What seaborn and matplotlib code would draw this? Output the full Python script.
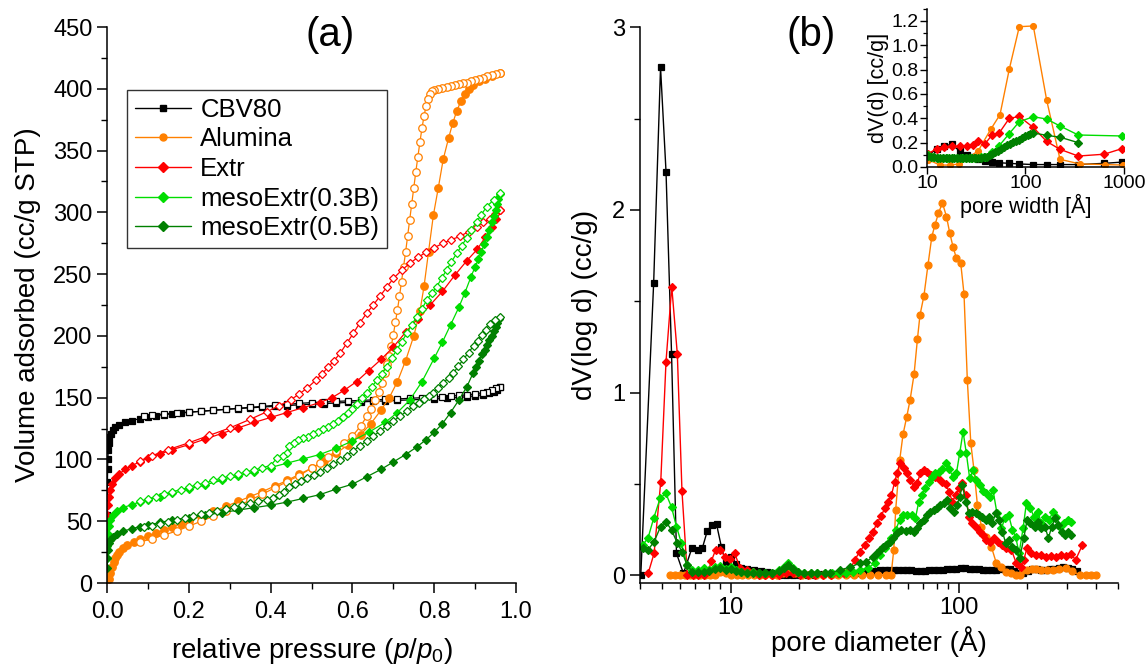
import numpy as np
import pandas as pd
import seaborn as sns
import matplotlib
matplotlib.use("Agg")
import matplotlib.pyplot as plt
from matplotlib.lines import Line2D
from matplotlib import ticker

# ---------------- (a) nitrogen isotherms: adsorption / desorption ----------------
cbv_ads_p = [0.0003, 0.0006, 0.001, 0.0015, 0.002, 0.003, 0.004, 0.006, 0.009, 0.014, 0.02, 0.03, 0.045, 0.06, 0.08,
             0.1, 0.12, 0.14, 0.16, 0.18, 0.2, 0.23, 0.26, 0.29, 0.32, 0.35, 0.38, 0.41, 0.44, 0.47, 0.5, 0.53, 0.56,
             0.59, 0.62, 0.65, 0.68, 0.71, 0.74, 0.77, 0.8, 0.83, 0.86, 0.88, 0.9, 0.92, 0.935, 0.945, 0.953, 0.96]
cbv_ads_v = [55, 70, 82, 92, 100, 108, 113, 118, 121, 123.5, 126, 128, 130, 131.5, 133, 134.5, 135.5, 136.3, 137, 137.6,
             138.2, 139, 139.8, 140.5, 141.2, 141.8, 142.4, 143, 143.6, 144.2, 144.7, 145.2, 145.7, 146.2, 146.6, 147,
             147.4, 147.8, 148.2, 148.6, 149, 149.5, 150.2, 150.8, 151.5, 152.5, 153.5, 155, 156.5, 159]
cbv_des_p = [0.96, 0.95, 0.94, 0.93, 0.92, 0.9, 0.88, 0.86, 0.84, 0.82, 0.8, 0.77, 0.74, 0.71, 0.68, 0.65, 0.62, 0.59,
             0.56, 0.53, 0.5, 0.47, 0.44, 0.41, 0.38, 0.35, 0.32, 0.29, 0.26, 0.23, 0.2, 0.17, 0.14, 0.11, 0.09]
cbv_des_v = [159, 157.5, 156, 155, 154.2, 153, 152.3, 151.8, 151.3, 150.9, 150.5, 150, 149.5, 149, 148.6, 148.2, 147.8,
             147.4, 147, 146.5, 146, 145.4, 144.6, 143.8, 143, 142.2, 141.4, 140.6, 139.8, 139, 138.3, 137.6, 136.8,
             136, 135.3]

alu_ads_p = [0.004, 0.008, 0.012, 0.016, 0.02, 0.025, 0.03, 0.04, 0.05, 0.065, 0.08, 0.1, 0.12, 0.14, 0.16, 0.18, 0.2,
             0.23, 0.26, 0.29, 0.32, 0.35, 0.38, 0.41, 0.44, 0.47, 0.5, 0.53, 0.56, 0.59, 0.62, 0.645, 0.67, 0.69, 0.71,
             0.73, 0.75, 0.765, 0.775, 0.786, 0.798, 0.81, 0.822, 0.835, 0.845, 0.855, 0.865, 0.875, 0.885, 0.895, 0.91,
             0.925, 0.94, 0.96]
alu_ads_v = [3, 8, 13, 17, 20, 23, 25.5, 28.5, 31, 33.5, 35.5, 38, 40.5, 43, 45.5, 48, 50.5, 54, 58, 62, 66, 70, 74,
             78.5, 83, 88, 93, 98.5, 105, 112, 120, 129, 140, 150, 163, 180, 200, 220, 240, 268, 298, 320, 343, 360,
             372, 382, 390, 396, 400, 403, 406, 408, 410, 413]
alu_des_p = [0.96, 0.95, 0.94, 0.93, 0.92, 0.91, 0.9, 0.89, 0.88, 0.87, 0.86, 0.85, 0.84, 0.83, 0.82, 0.81, 0.80,
             0.795, 0.79, 0.785, 0.78, 0.775, 0.77, 0.765, 0.76, 0.755, 0.75, 0.745, 0.74, 0.735, 0.73, 0.725, 0.72,
             0.715, 0.71, 0.705, 0.70, 0.695, 0.69, 0.685, 0.68, 0.672, 0.664, 0.655, 0.645, 0.635, 0.62, 0.6, 0.58,
             0.56, 0.54, 0.52, 0.5, 0.47, 0.44, 0.41, 0.38, 0.35, 0.32, 0.29, 0.26, 0.23, 0.2, 0.17, 0.14, 0.11, 0.08]
alu_des_v = [413, 412, 411, 410, 409, 408, 407, 406, 405, 404.5, 404, 403, 402, 401.5, 401, 400, 399, 398, 396, 392,
             386, 378, 368, 357, 345, 333, 320, 307, 294, 281, 268, 256, 244, 232, 221, 211, 201, 192, 184, 177, 170,
             162, 155, 148, 141, 135, 127, 119, 113, 107, 102, 97, 93, 87, 82, 77, 72, 67, 62.5, 58, 54, 50, 46, 42,
             39, 36, 33]

ext_ads_p = [0.0003, 0.0006, 0.001, 0.002, 0.004, 0.007, 0.012, 0.02, 0.03, 0.045, 0.06, 0.08, 0.1, 0.13, 0.16, 0.2,
             0.24, 0.28, 0.32, 0.36, 0.4, 0.44, 0.48, 0.52, 0.55, 0.58, 0.61, 0.64, 0.67, 0.70, 0.73, 0.76, 0.79,
             0.82, 0.85, 0.88, 0.905, 0.925, 0.94, 0.952, 0.96]
ext_ads_v = [35, 45, 55, 63, 70, 75, 80, 85, 88.5, 92, 95, 98, 101, 104.5, 108, 112, 116.5, 121, 125.5, 130, 134, 138,
             142, 146, 150, 156, 163, 172, 181, 191, 203, 214, 225, 236, 249, 261, 270, 280, 288, 295, 302]
ext_des_p = [0.961, 0.948, 0.936, 0.92, 0.904, 0.884, 0.863, 0.842, 0.822, 0.80, 0.781, 0.76, 0.741, 0.72, 0.70,
             0.684, 0.667, 0.651, 0.635, 0.618, 0.602, 0.586, 0.57, 0.555, 0.54, 0.525, 0.51, 0.49, 0.47, 0.45, 0.42,
             0.39, 0.35, 0.3, 0.25, 0.2, 0.15, 0.11, 0.08]
ext_des_v = [302, 299, 295, 292, 288.5, 284.5, 280.5, 278, 275, 271.5, 268, 263.5, 259, 253, 246.5, 239.5, 232, 225,
             218.5, 210.5, 202, 194, 186, 180, 174.5, 169, 164, 158, 153, 148.5, 143.5, 138.5, 132.5, 125.5, 119.5,
             113.5, 108, 103, 99]

m03_ads_p = [0.0005, 0.001, 0.002, 0.004, 0.008, 0.015, 0.025, 0.04, 0.06, 0.08, 0.1, 0.13, 0.16, 0.2, 0.24, 0.28,
             0.32, 0.36, 0.4, 0.44, 0.48, 0.52, 0.56, 0.6, 0.64, 0.68, 0.71, 0.74, 0.77, 0.8, 0.82, 0.84, 0.86, 0.875,
             0.89, 0.9, 0.908, 0.915, 0.922, 0.928, 0.934, 0.94, 0.945, 0.95, 0.954, 0.957, 0.96]
m03_ads_v = [20, 30, 40, 46, 51, 55, 58, 61, 63.5, 65.5, 67.5, 70, 72.5, 76, 79.5, 83, 86.5, 90, 93.5, 97, 100.5, 104,
             109, 115, 122, 130, 138, 148, 163, 182, 195, 209, 223, 235, 248, 256, 262, 268, 274, 280, 286, 292, 297,
             302, 307, 311, 315]
m03_des_p = [0.96, 0.945, 0.928, 0.915, 0.904, 0.89, 0.879, 0.867, 0.855, 0.842, 0.83, 0.818, 0.806, 0.794, 0.782,
             0.77, 0.757, 0.745, 0.733, 0.72, 0.708, 0.696, 0.684, 0.672, 0.66, 0.648, 0.636, 0.624, 0.612, 0.6, 0.588,
             0.576, 0.564, 0.552, 0.54, 0.528, 0.516, 0.504, 0.492, 0.48, 0.468, 0.456, 0.445, 0.44, 0.43, 0.415,
             0.4, 0.38, 0.36, 0.34, 0.32, 0.3, 0.28, 0.26, 0.24, 0.22, 0.2, 0.18, 0.16, 0.14, 0.12, 0.1, 0.08]
m03_des_v = [316, 310, 304.6, 298, 292.5, 286, 279, 273, 266.8, 260, 253.4, 246.5, 239.9, 234.5, 229.1, 222, 215.6,
             209, 202.1, 195, 188.6, 182, 175.1, 169.5, 164.3, 159, 154, 149.5, 145, 141, 137.5, 134, 131.5, 129,
             126.5, 124.5, 122.5, 120.5, 118.5, 117, 115.5, 113.5, 111, 105, 103, 101, 95, 93.5, 91.5, 90, 88, 86.5,
             85, 83, 81, 79.5, 77.5, 75.5, 74, 72, 70, 68, 66]

m05_ads_p = [0.0005, 0.001, 0.002, 0.004, 0.008, 0.015, 0.025, 0.04, 0.06, 0.08, 0.1, 0.13, 0.16, 0.2, 0.24, 0.28,
             0.32, 0.36, 0.4, 0.44, 0.48, 0.52, 0.56, 0.6, 0.635, 0.67, 0.70, 0.73, 0.757, 0.78, 0.80, 0.82, 0.84,
             0.86, 0.88, 0.895, 0.903, 0.91, 0.917, 0.923, 0.929, 0.935, 0.94, 0.945, 0.95, 0.954, 0.958]
m05_ads_v = [12, 20, 27, 32, 35, 37.5, 39.5, 42, 44, 45.5, 47, 49, 51, 53, 55, 57, 59, 61, 63, 65.5, 68.5, 71.5, 76, 80,
             86, 92, 98, 104, 110, 116, 122, 129, 138, 148, 159, 170, 175, 180, 185, 189, 193, 197, 200, 204, 207,
             210.5, 214]
m05_des_p = [0.96, 0.948, 0.937, 0.926, 0.916, 0.906, 0.896, 0.884, 0.871, 0.859, 0.847, 0.835, 0.822, 0.81, 0.798,
             0.786, 0.774, 0.762, 0.749, 0.733, 0.716, 0.7, 0.684, 0.668, 0.651, 0.635, 0.618, 0.602, 0.586, 0.57,
             0.553, 0.537, 0.52, 0.505, 0.49, 0.475, 0.46, 0.445, 0.432, 0.42, 0.406, 0.39, 0.37, 0.35, 0.33, 0.31,
             0.29, 0.27, 0.25, 0.23, 0.21, 0.19, 0.17, 0.15, 0.13, 0.11, 0.09]
m05_des_v = [215, 212.5, 210, 205, 201, 196, 192, 186.5, 181, 175.5, 170, 166, 162, 158, 154, 151, 148.7, 146, 143.3,
             139, 135, 131, 127, 123, 119, 115, 111, 107, 103, 99.5, 96, 93, 90, 87.5, 85, 82.5, 80, 77.5, 74, 71.5,
             69, 67.5, 66, 64.5, 63, 61.5, 60, 58.5, 57, 55.5, 54, 52.5, 51, 49.5, 48, 46.5, 45]

# ---------------- (b) pore size distributions dV(log d) ----------------
cbv_d = [4.03, 4.59, 4.92, 5.20, 5.50, 5.78, 6.2, 6.76, 7.15, 7.51, 7.90, 8.28, 8.66, 9.10, 9.5, 10.0, 10.5, 11.1,
         11.8, 12.7, 13.6, 14.4, 15.3, 16.3, 17.5, 18.8, 20.2, 21.8, 23.5, 25.4, 27.4, 29.0, 30.0, 31.5, 33.0, 34.5,
         36.0, 37.7, 39.5, 41.3, 43.2, 45.2, 47.3, 49.5, 51.8, 54.2, 56.7, 59.3, 62.0, 65.0, 68.0, 71.0, 74.3, 77.8,
         81.4, 85.2, 89.1, 93.2, 97.5, 102, 106.7, 111.6, 116.8, 122.2, 127.8, 133.7, 139.9, 146.4, 153.2, 160.3,
         167.7, 175.5, 183.6, 192, 201, 210, 220, 230, 240.5, 251.6, 263, 275, 288, 301, 315, 330]
cbv_dv = [0.0, 1.60, 2.78, 2.21, 1.21, 0.12, 0.01, 0.15, 0.14, 0.15, 0.245, 0.275, 0.28, 0.155, 0.07, 0.10, 0.06,
          0.04, 0.035, 0.03, 0.025, 0.02, 0.01, 0.0, 0.0, 0.0, 0.0, 0.0, 0.0, 0.005, 0.005, 0.008, 0.01, 0.01, 0.012,
          0.015, 0.015, 0.018, 0.02, 0.022, 0.025, 0.028, 0.03, 0.03, 0.03, 0.03, 0.03, 0.028, 0.027, 0.025, 0.025,
          0.025, 0.027, 0.03, 0.03, 0.03, 0.032, 0.033, 0.035, 0.04, 0.038, 0.035, 0.035, 0.033, 0.03, 0.03, 0.03,
          0.03, 0.032, 0.035, 0.032, 0.025, 0.015, 0.01, 0.025, 0.033, 0.035, 0.03, 0.03, 0.032, 0.035, 0.04, 0.045,
          0.04, 0.032, 0.025]

alu_d = [5.4, 5.7, 6.0, 6.3, 6.6, 6.9, 7.3, 7.7, 8.1, 8.5, 9.0, 9.5, 10.0, 10.6, 11.2, 11.9, 12.6, 13.4, 14.2, 15.1,
         16.0, 17.0, 18.0, 19.2, 20.5, 22.0, 23.6, 25.4, 27.4, 29.6, 32, 34.6, 37.5, 40.7, 44.2, 48, 50.5, 51.9,
         52.9, 55.1, 57.0, 59.1, 61.2, 63.7, 65.9, 67.6, 70.4, 73.3, 76.2, 78.7, 81.5, 84.8, 88.4, 91.4, 94.4, 97.7,
         102, 105.5, 109.1, 113, 116.7, 120.8, 125.8, 132.2, 139, 146.3, 153.8, 161.8, 170, 179, 185, 191, 200, 210,
         219, 230, 245, 259, 275, 297, 315, 340, 360, 380, 402]
alu_dv = [0, 0, 0, 0, 0, 0, 0, 0, 0, 0, 0.02, 0.01, 0, 0, 0, 0, 0, 0, 0, 0, 0, 0.015, 0.025, 0.01, 0, 0, 0, 0, 0, 0,
          0, 0, 0, 0, 0, 0, 0, 0.14, 0.357, 0.631, 0.772, 0.865, 0.960, 1.100, 1.292, 1.423, 1.531, 1.698, 1.853,
          1.919, 1.981, 2.039, 1.963, 1.872, 1.799, 1.735, 1.711, 1.540, 1.069, 0.722, 0.576, 0.385, 0.266, 0.211,
          0.157, 0.066, 0.047, 0.020, 0.01, 0.0, 0.0, 0.03, 0.03, 0.035, 0.033, 0.03, 0.03, 0.03, 0.035, 0.04, 0.025,
          0.0, 0.0, 0.0, 0.0]

ext_d = [4.34, 4.61, 4.93, 5.20, 5.51, 5.83, 6.11, 6.45, 6.8, 7.2, 7.6, 8.0, 8.23, 8.59, 9.0, 9.48, 9.9, 10.4, 11.0,
         11.8, 12.5, 13.3, 14.2, 15.2, 16.3, 17.5, 18.8, 20.2, 21.8, 23.5, 25.4, 27.4, 29.5, 31.5, 33.3, 35.0, 36.8,
         38.7, 40.5, 42.1, 43.8, 45.5, 47.4, 49.0, 50.7, 52.4, 53.6, 55.1, 57.4, 59.3, 61.4, 63.5, 65.7, 67.9, 70.2,
         72.6, 75.4, 78.5, 81.4, 84.8, 87.7, 90.7, 93.8, 97, 100.3, 103.8, 107.3, 111, 114.8, 119.6, 123.7, 127.9,
         132.2, 137.7, 142.4, 148.7, 155.5, 161.9, 170.3, 179, 187, 192.8, 199.4, 208.4, 219.2, 230.5, 242.4, 255,
         268.2, 282, 296.5, 312, 325.5, 349]
ext_dv = [0.01, 0.12, 0.51, 1.17, 1.58, 1.21, 0.46, 0.0, 0.0, 0.0, 0.0, 0.03, 0.08, 0.14, 0.14, 0.10, 0.09, 0.12,
          0.04, 0.03, 0.02, 0.0, 0.0, 0.0, 0.0, 0.01, 0.01, 0.0, 0.0, 0.0, 0.0, 0.0, 0.01, 0.015, 0.029, 0.084,
          0.130, 0.166, 0.203, 0.239, 0.285, 0.322, 0.366, 0.403, 0.439, 0.512, 0.558, 0.612, 0.585, 0.558, 0.522,
          0.485, 0.503, 0.558, 0.576, 0.567, 0.549, 0.540, 0.531, 0.512, 0.500, 0.458, 0.403, 0.439, 0.476, 0.503,
          0.439, 0.320, 0.284, 0.266, 0.239, 0.221, 0.193, 0.184, 0.203, 0.184, 0.166, 0.148, 0.139, 0.066, 0.048,
          0.084, 0.148, 0.124, 0.111, 0.111, 0.102, 0.106, 0.102, 0.111, 0.106, 0.115, 0.084, 0.166]

m03_d = [4.12, 4.34, 4.59, 4.90, 5.19, 5.50, 5.78, 6.08, 6.43, 6.79, 7.2, 7.6, 8.0, 8.5, 9.0, 9.5, 10.0, 10.5, 11.1,
         11.8, 12.5, 13.3, 14.2, 15.2, 16.3, 17.2, 17.8, 18.7, 19.7, 21, 22.5, 24, 25.8, 27.7, 29.7, 32, 34.5, 37,
         40, 42.8, 45.1, 47.4, 49.0, 50.7, 52.9, 55.1, 57.0, 59.3, 62.1, 64.6, 66.8, 69.1, 71.4, 73.9, 76.4, 79.0,
         81.7, 84.5, 87.7, 90.7, 94.4, 97.7, 101, 104.5, 108, 111.7, 115.6, 119.6, 123.7, 127.9, 132.2, 136.8,
         141.4, 147.2, 153.8, 159.6, 165.6, 172.1, 177.8, 184, 191.6, 198.2, 206.3, 213.8, 222.6, 230.5, 239.3,
         249.2, 259.2, 268.4, 279.3, 289.9, 301.7, 312]
m03_dv = [0.166, 0.206, 0.312, 0.421, 0.449, 0.372, 0.266, 0.175, 0.056, 0.027, 0.03, 0.04, 0.03, 0.045, 0.05, 0.035,
          0.045, 0.03, 0.02, 0.015, 0.02, 0.01, 0.01, 0.015, 0.03, 0.045, 0.066, 0.04, 0.02, 0.01, 0.01, 0.01, 0.01,
          0.01, 0.01, 0.015, 0.02, 0.03, 0.04, 0.066, 0.111, 0.148, 0.175, 0.203, 0.248, 0.303, 0.330, 0.330,
          0.330, 0.312, 0.403, 0.440, 0.476, 0.512, 0.540, 0.558, 0.567, 0.580, 0.613, 0.580, 0.540, 0.558, 0.668,
          0.786, 0.668, 0.531, 0.576, 0.522, 0.494, 0.463, 0.449, 0.430, 0.467, 0.339, 0.257, 0.312, 0.330, 0.248,
          0.211, 0.12, 0.257, 0.397, 0.367, 0.321, 0.348, 0.285, 0.321, 0.303, 0.348, 0.321, 0.266, 0.285, 0.303,
          0.294]

m05_d = [4.12, 4.34, 4.61, 4.92, 5.19, 5.50, 5.82, 6.11, 6.43, 6.79, 7.2, 7.6, 8.0, 8.5, 9.0, 9.5, 10.0, 10.5, 11.1,
         11.8, 12.5, 13.3, 14.2, 15.2, 16.3, 17.2, 17.8, 18.7, 19.7, 21, 22.5, 24, 25.8, 27.2, 30.1, 33.3, 36.8,
         39.4, 42.1, 43.6, 45.1, 46.6, 48.2, 49.8, 51.5, 53.7, 56.1, 58.6, 61.0, 63.5, 65.6, 67.9, 70.2, 72.6, 75.1,
         77.7, 80.3, 83.1, 85.9, 88.9, 91.9, 95.1, 98.3, 101, 103.8, 107.3, 111, 114.8, 118.8, 122.8, 127, 131.3,
         135.8, 140.5, 145.3, 150.3, 155.5, 160.8, 166.3, 171.9, 179, 185.2, 192.9, 199.5, 206.3, 215.4, 222.8,
         230.5, 239.1, 247.4, 255.9, 264.7, 273.8, 283.2, 293.8, 302.7, 311.9]
m05_dv = [0.15, 0.14, 0.184, 0.266, 0.293, 0.248, 0.178, 0.129, 0.056, 0.02, 0.02, 0.02, 0.025, 0.035, 0.04, 0.03,
          0.035, 0.025, 0.02, 0.015, 0.015, 0.01, 0.01, 0.015, 0.025, 0.04, 0.055, 0.035, 0.02, 0.01, 0.01, 0.01,
          0.01, 0.011, 0.029, 0.044, 0.066, 0.075, 0.102, 0.124, 0.139, 0.157, 0.166, 0.184, 0.203, 0.230, 0.248,
          0.245, 0.248, 0.239, 0.257, 0.285, 0.303, 0.330, 0.348, 0.357, 0.367, 0.385, 0.394, 0.412, 0.367, 0.348,
          0.385, 0.430, 0.494, 0.403, 0.339, 0.348, 0.339, 0.330, 0.321, 0.303, 0.321, 0.285, 0.339, 0.303, 0.239,
          0.175, 0.193, 0.157, 0.139, 0.093, 0.203, 0.303, 0.285, 0.266, 0.294, 0.257, 0.266, 0.203, 0.266, 0.312,
          0.275, 0.239, 0.221, 0.239, 0.221]

# ---------------- inset: dV(d) ----------------
cbv_in_d = [10.3, 12.5, 14.9, 17.8, 21.6, 25.3, 29.5, 33.2, 38.8, 45.4, 54.1, 68.5, 86.5, 120, 164, 224, 343, 629, 945]
cbv_in_v = [0.10, 0.145, 0.175, 0.185, 0.13, 0.10, 0.085, 0.065, 0.05, 0.04, 0.035, 0.03, 0.025, 0.02, 0.02, 0.02,
            0.02, 0.03, 0.04]
alu_in_d = [10.3, 13.5, 17.1, 21.3, 33.2, 44.4, 55.1, 68.5, 86.5, 120, 164, 224, 357, 641, 970]
alu_in_v = [0.06, 0.016, 0.016, 0.025, 0.134, 0.31, 0.43, 0.805, 1.153, 1.159, 0.55, 0.063, 0.025, 0.02, 0.016]
ext_in_d = [10.3, 12.5, 14.9, 17.8, 21.6, 25.3, 29.5, 33.2, 38.8, 45.4, 54.1, 68.5, 86.5, 120, 164, 224, 343, 629, 945]
ext_in_v = [0.11, 0.15, 0.165, 0.17, 0.17, 0.175, 0.18, 0.215, 0.19, 0.26, 0.28, 0.40, 0.415, 0.325, 0.21, 0.145,
            0.09, 0.105, 0.15]
m03_in_d = [10.3, 11.5, 13, 14.5, 16, 18, 20, 22.5, 25, 28, 31, 35, 39, 45.4, 54.1, 68.5, 86.5, 120, 164, 224, 343,
            945]
m03_in_v = [0.10, 0.08, 0.075, 0.075, 0.075, 0.075, 0.075, 0.075, 0.075, 0.075, 0.075, 0.08, 0.085, 0.12, 0.175,
            0.275, 0.372, 0.413, 0.394, 0.337, 0.263, 0.255]
m05_in_d = [10.3, 11, 11.8, 12.6, 13.5, 14.5, 15.5, 16.6, 17.8, 19, 20.4, 21.8, 23.4, 25, 26.8, 28.7, 30.7, 32.9,
            35.2, 37.7, 40.3, 43.2, 46.2, 49.5, 53, 56.7, 60.7, 65, 69.6, 74.5, 79.8, 85.4, 91.5, 98, 105, 112, 120,
            164, 224, 343]
m05_in_v = [0.09, 0.085, 0.08, 0.075, 0.075, 0.075, 0.075, 0.075, 0.075, 0.075, 0.075, 0.075, 0.075, 0.075, 0.075,
            0.075, 0.075, 0.075, 0.075, 0.08, 0.085, 0.095, 0.11, 0.12, 0.135, 0.15, 0.165, 0.18, 0.19, 0.205, 0.215,
            0.225, 0.24, 0.255, 0.265, 0.27, 0.28, 0.26, 0.245, 0.20]

labels = ["CBV80", "Alumina", "Extr", "mesoExtr(0.3B)", "mesoExtr(0.5B)"]
colors = ["#000000", "#FF8000", "#FF0000", "#00DD00", "#008000"]
markers = ["s", "o", "D", "D", "D"]
msize_a = [4.6, 5.4, 4.4, 4.4, 4.4]

iso = [(cbv_ads_p, cbv_ads_v, cbv_des_p, cbv_des_v),
       (alu_ads_p, alu_ads_v, alu_des_p, alu_des_v),
       (ext_ads_p, ext_ads_v, ext_des_p, ext_des_v),
       (m03_ads_p, m03_ads_v, m03_des_p, m03_des_v),
       (m05_ads_p, m05_ads_v, m05_des_p, m05_des_v)]
psd = [(cbv_d, cbv_dv), (alu_d, alu_dv), (ext_d, ext_dv), (m03_d, m03_dv), (m05_d, m05_dv)]
psd_in = [(cbv_in_d, cbv_in_v), (alu_in_d, alu_in_v), (ext_in_d, ext_in_v), (m03_in_d, m03_in_v),
          (m05_in_d, m05_in_v)]

sns.set_theme(style="ticks")
plt.rcParams.update({
    "font.family": ["Liberation Sans", "DejaVu Sans"],
    "mathtext.fontset": "custom",
    "mathtext.rm": "Liberation Sans",
    "mathtext.it": "Liberation Sans:italic",
    "text.color": "black",
    "axes.labelcolor": "black",
    "axes.edgecolor": "black",
    "xtick.color": "black",
    "ytick.color": "black",
    "axes.linewidth": 1.1,
    "xtick.direction": "out",
    "ytick.direction": "out",
})

fig = plt.figure(figsize=(11.46, 6.72), dpi=100)
ax_a = fig.add_axes([0.0934, 0.1324, 0.3569, 0.8274])
ax_b = fig.add_axes([0.5585, 0.1317, 0.4171, 0.8278])
ax_in = fig.add_axes([0.8089, 0.7515, 0.1719, 0.2354])


def draw(ax, x, y, color, marker, ms, face, lw=0.9, mew=0.9):
    df = pd.DataFrame({"x": x, "y": y})
    sns.lineplot(data=df, x="x", y="y", ax=ax, color=color, marker=marker, markersize=ms,
                 markerfacecolor=face, markeredgecolor=color, markeredgewidth=mew,
                 linewidth=lw, estimator=None, sort=False, legend=False)


# panel (a): filled = adsorption, open = desorption
for (ap, av, dp, dvv), c, m, ms in zip(iso, colors, markers, msize_a):
    draw(ax_a, ap, av, c, m, ms, c)
    draw(ax_a, dp, dvv, c, m, ms, "white")

ax_a.set_xlim(0, 1.0)
ax_a.set_ylim(0, 450)
ax_a.xaxis.set_major_locator(ticker.MultipleLocator(0.2))
ax_a.xaxis.set_minor_locator(ticker.MultipleLocator(0.1))
ax_a.yaxis.set_major_locator(ticker.MultipleLocator(50))
ax_a.yaxis.set_minor_locator(ticker.MultipleLocator(25))
ax_a.xaxis.set_major_formatter(ticker.FormatStrFormatter("%.1f"))
ax_a.set_xlabel(r"relative pressure ($\mathit{p}$/$\mathit{p}_\mathrm{0}$)", fontsize=20, labelpad=9)
ax_a.set_ylabel("Volume adsorbed (cc/g STP)", fontsize=20, labelpad=9)
ax_a.text(0.546, 0.986, "(a)", transform=ax_a.transAxes, fontsize=29, ha="center", va="center")

handles = [Line2D([], [], color=c, marker=m, markersize=5, markerfacecolor=c, markeredgecolor=c, linewidth=1)
           for c, m in zip(colors, markers)]
leg = ax_a.legend(handles, labels, loc="upper left", bbox_to_anchor=(0.049, 0.887), borderaxespad=0,
                  fontsize=18.5, frameon=True, fancybox=False, edgecolor="black", handlelength=2.2,
                  handletextpad=0.35, labelspacing=0.22, borderpad=0.3)
leg.get_frame().set_linewidth(1.0)

# panel (b)
for (d, v), c, m in zip(psd, colors, markers):
    draw(ax_b, d, v, c, m, 4.6 if m == "s" else (5.0 if m == "o" else 4.4), c, lw=1.0)

ax_b.set_xscale("log")
ax_b.set_xlim(4, 500)
ax_b.set_ylim(-0.045, 3.0)
ax_b.yaxis.set_major_locator(ticker.MultipleLocator(1))
ax_b.yaxis.set_minor_locator(ticker.MultipleLocator(0.5))
ax_b.xaxis.set_major_locator(ticker.FixedLocator([10, 100]))
ax_b.xaxis.set_major_formatter(ticker.FixedFormatter(["10", "100"]))
ax_b.xaxis.set_minor_locator(ticker.LogLocator(base=10, subs=np.arange(2, 10)))
ax_b.xaxis.set_minor_formatter(ticker.NullFormatter())
ax_b.set_xlabel("pore diameter (\u00c5)", fontsize=20, labelpad=5)
ax_b.set_ylabel("dV(log d) (cc/g)", fontsize=20, labelpad=10)
ax_b.text(0.357, 0.986, "(b)", transform=ax_b.transAxes, fontsize=29, ha="center", va="center")

# inset: dV(d) against pore width
for (d, v), c, m in zip(psd_in, colors, markers):
    draw(ax_in, d, v, c, m, 3.8 if m == "s" else (4.2 if m == "o" else 3.8), c, lw=1.0)
ax_in.set_xscale("log")
ax_in.set_xlim(10, 1000)
ax_in.set_ylim(0, 1.3)
ax_in.yaxis.set_major_locator(ticker.MultipleLocator(0.2))
ax_in.yaxis.set_minor_locator(ticker.MultipleLocator(0.1))
ax_in.yaxis.set_major_formatter(ticker.FormatStrFormatter("%.1f"))
ax_in.xaxis.set_major_locator(ticker.FixedLocator([10, 100, 1000]))
ax_in.xaxis.set_major_formatter(ticker.FixedFormatter(["10", "100", "1000"]))
ax_in.xaxis.set_minor_locator(ticker.NullLocator())
ax_in.set_xlabel("pore width [\u00c5]", fontsize=15.5, labelpad=1)
ax_in.set_ylabel("dV(d) [cc/g]", fontsize=15.5, labelpad=2)

for ax in (ax_a, ax_b, ax_in):
    sns.despine(ax=ax)
    ax.set_facecolor("none")
ax_a.tick_params(axis="x", which="major", pad=6)
for ax in (ax_a, ax_b):
    ax.tick_params(which="major", length=7, width=1.1, labelsize=17)
    ax.tick_params(which="minor", length=4, width=1.0)
ax_b.tick_params(axis="x", which="major", pad=3)
ax_in.tick_params(which="major", length=5, width=1.0, labelsize=14, pad=1)
ax_in.tick_params(which="minor", length=3, width=0.9)

fig.savefig("out.png", dpi=100)
